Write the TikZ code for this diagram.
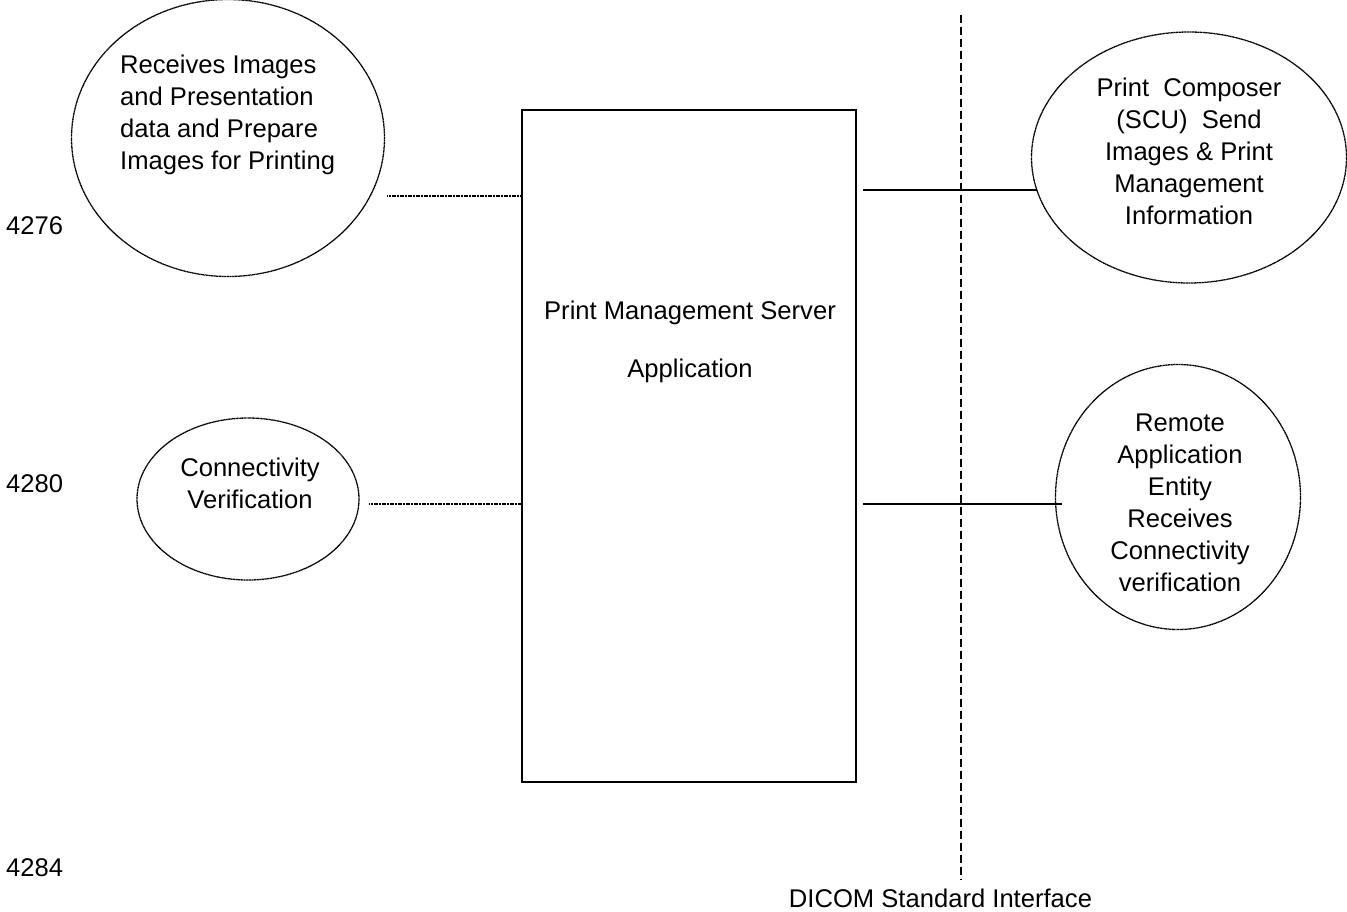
\documentclass[tikz,border=0pt]{standalone}
\usepackage{fontspec}
\setmainfont{Liberation Sans}
\usetikzlibrary{shapes.geometric}
\begin{document}
\begin{tikzpicture}[x=1pt,y=-1pt,
  lab/.style={inner sep=0pt,font=\fontsize{25.6}{32}\selectfont,align=center,text=black},
  side/.style={inner sep=0pt,font=\fontsize{25.6}{20}\selectfont,anchor=west},
  oval/.style={draw,dash pattern=on 1.2pt off 0.4pt,line width=1.3pt,ellipse,inner sep=0pt,minimum width=#1},
  solidl/.style={line width=1.8pt},
  dotl/.style={line width=1.4pt,dash pattern=on 1.2pt off 0.4pt}]
\useasboundingbox (0,0) rectangle (1347,911);
\node[draw,line width=1.8pt,minimum width=334pt,minimum height=672pt,inner sep=0pt] (box) at (689,446) {};
\node[lab] (boxt) at (690,313) {Print Management Server};
\node[lab] (boxu) at (690,371) {Application};
\node[oval=313pt,minimum height=277pt] (a) at (228,138) {};
\node[lab,align=left,anchor=west] at (120,115) {Receives Images\\and Presentation\\data and Prepare\\Images for Printing};
\node[oval=222pt,minimum height=162pt] (b) at (248,499) {};
\node[lab] at (250,483) {Connectivity\\Verification};
\node[oval=315pt,minimum height=251pt] (c) at (1189,157.5) {};
\node[lab] at (1189,151) {Print~~Composer\\(SCU)~~Send\\Images \& Print\\Management\\Information};
\node[oval=245pt,minimum height=265pt] (d) at (1178,497) {};
\node[lab] at (1180,503) {Remote\\Application\\Entity\\Receives\\Connectivity\\verification};
\node[side] at (6,226) {4276};
\node[side] at (6,484) {4280};
\node[side] at (6,868) {4284};
\node[lab] (dic) at (940.5,898) {DICOM Standard Interface};
\coordinate (ta) at (961,15);
\coordinate (tb) at (961,880);
\draw[dash pattern=on 8pt off 4pt,line width=1.8pt] (ta) -- (tb);
\coordinate (a1) at (387,196);
\coordinate (a2) at (522,196);
\draw[dotl] (a1) -- (a2);
\coordinate (b1) at (369,504);
\coordinate (b2) at (522,504);
\draw[dotl] (b1) -- (b2);
\coordinate (c1) at (863,190);
\coordinate (c2) at (1037,190);
\draw[solidl] (c1) -- (c2);
\coordinate (d1) at (863,504);
\coordinate (d2) at (1062,504);
\draw[solidl] (d1) -- (d2);
\end{tikzpicture}
\end{document}
